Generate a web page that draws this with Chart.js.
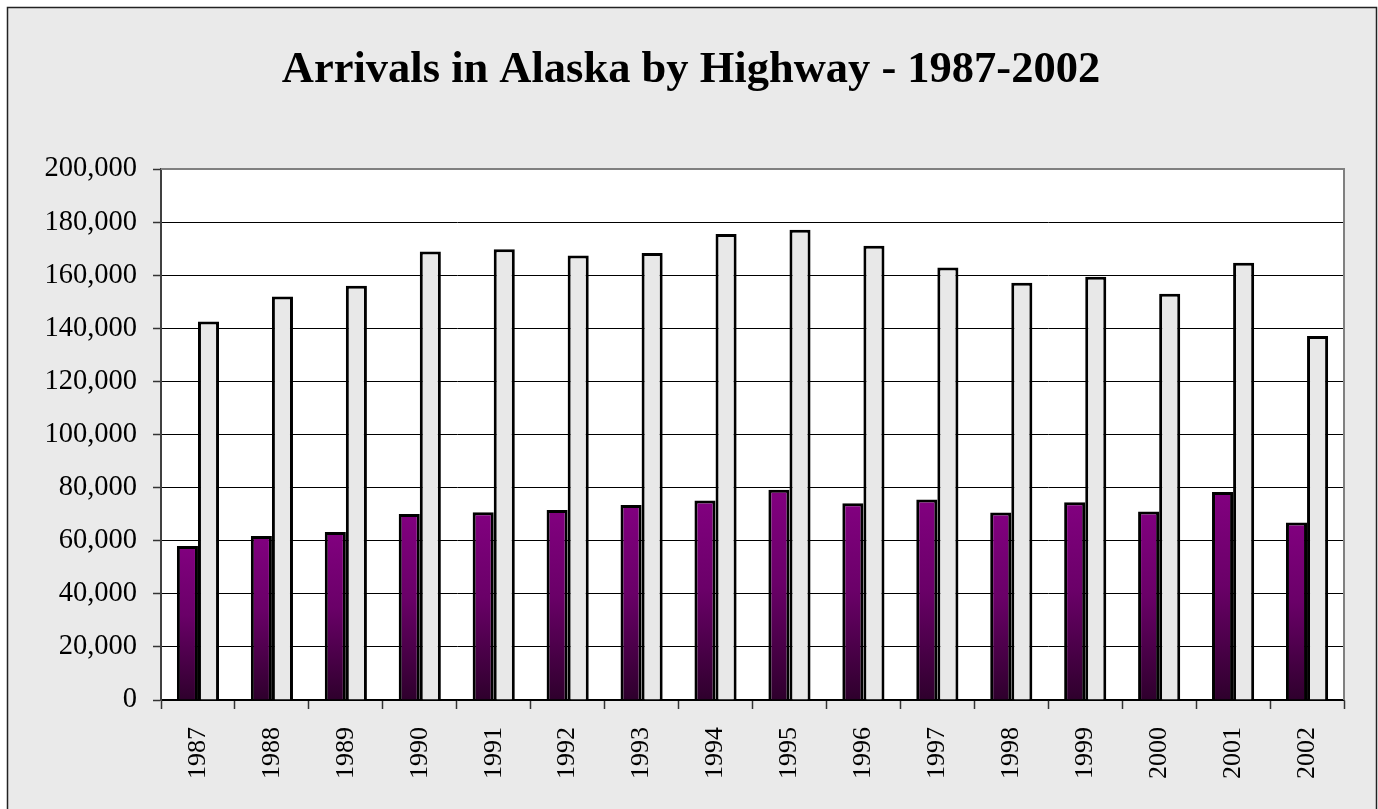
<!DOCTYPE html>
<html>
<head>
<meta charset="utf-8">
<script src="https://cdn.jsdelivr.net/npm/chart.js@4"></script>
<style>
  html, body { margin: 0; padding: 0; background: #ffffff; }
  #wrap { width: 1378px; height: 809px; position: relative; }
</style>
</head>
<body>
<div id="wrap"><canvas id="c" width="1378" height="809"></canvas></div>
<script>
const years = ['1987','1988','1989','1990','1991','1992','1993','1994','1995','1996','1997','1998','1999','2000','2001','2002'];
const seriesA = [58000, 61800, 63300, 70100, 70700, 71600, 73400, 75100, 79200, 74100, 75500, 70600, 74500, 71000, 78300, 66900];
const seriesB = [142600, 152000, 156000, 168900, 169800, 167400, 168400, 175500, 177100, 171100, 162900, 157200, 159400, 153000, 164700, 137100];
const yTicks = [0, 20000, 40000, 60000, 80000, 100000, 120000, 140000, 160000, 180000, 200000];
const titleText = 'Arrivals in Alaska by Highway - 1987-2002';

const FONT = "'Liberation Serif', 'Times New Roman', serif";

const framePlugin = {
  id: 'frame',
  beforeDraw(chart) {
    const ctx = chart.ctx;
    const a = chart.chartArea;
    ctx.save();
    ctx.fillStyle = '#ffffff';
    ctx.fillRect(0, 0, chart.width, chart.height);
    ctx.fillStyle = '#eaeaea';
    ctx.fillRect(7, 7, 1369, 820);
    ctx.strokeStyle = '#222222';
    ctx.lineWidth = 1.5;
    ctx.strokeRect(7.5, 7.5, 1369, 820);
    ctx.fillStyle = '#ffffff';
    ctx.fillRect(a.left, a.top, a.right - a.left, a.bottom - a.top);
    ctx.restore();
  },
  afterDatasetsDraw(chart) {
    const ctx = chart.ctx;
    const a = chart.chartArea;
    ctx.save();
    ctx.strokeStyle = '#808080';
    ctx.lineWidth = 2;
    ctx.beginPath();
    ctx.moveTo(a.left, a.top);
    ctx.lineTo(a.right, a.top);
    ctx.lineTo(a.right, a.bottom);
    ctx.stroke();
    ctx.restore();
  }
};

function purpleFill(context) {
  const chart = context.chart;
  const y = chart.scales.y;
  if (!chart.chartArea || !y || context.raw == null) return '#800080';
  const top = y.getPixelForValue(context.raw);
  const bot = y.getPixelForValue(0);
  const g = chart.ctx.createLinearGradient(0, top, 0, bot);
  g.addColorStop(0, '#820080');
  g.addColorStop(0.45, '#6a0068');
  g.addColorStop(1, '#2e002c');
  return g;
}

new Chart(document.getElementById('c'), {
  type: 'bar',
  data: {
    labels: years,
    datasets: [
      {
        label: 'Series A',
        data: seriesA,
        backgroundColor: purpleFill,
        borderColor: '#000000',
        borderWidth: 3,
        borderSkipped: 'bottom',
        categoryPercentage: 0.57,
        barPercentage: 1.0
      },
      {
        label: 'Series B',
        data: seriesB,
        backgroundColor: '#e8e8e8',
        borderColor: '#000000',
        borderWidth: 3,
        borderSkipped: 'bottom',
        categoryPercentage: 0.57,
        barPercentage: 1.0
      }
    ]
  },
  options: {
    responsive: false,
    animation: false,
    devicePixelRatio: 1,
    layout: { padding: { left: 38, right: 34, top: 0, bottom: 0 } },
    plugins: {
      legend: { display: false },
      tooltip: { enabled: false },
      title: {
        display: true,
        text: titleText,
        color: '#000000',
        font: { family: FONT, size: 44.5, weight: 'bold', lineHeight: 1.2 },
        padding: { top: 44, bottom: 71.6 }
      }
    },
    scales: {
      x: {
        offset: true,
        grid: {
          offset: true,
          drawOnChartArea: false,
          drawTicks: true,
          tickLength: 9,
          tickColor: '#333333',
          tickWidth: 1.5
        },
        border: { display: true, color: '#000000', width: 1.5 },
        ticks: {
          color: '#000000',
          font: { family: FONT, size: 26 },
          minRotation: 90,
          maxRotation: 90,
          padding: 18,
          autoSkip: false
        },
        afterFit(scale) { scale.height = 109; }
      },
      y: {
        min: 0,
        max: 200000,
        afterBuildTicks(scale) { scale.ticks = yTicks.map(v => ({ value: v })); },
        grid: {
          color: '#000000',
          lineWidth: 1,
          drawTicks: true,
          tickLength: 8,
          tickColor: '#333333',
          tickWidth: 1.5
        },
        border: { display: true, color: '#404040', width: 2 },
        ticks: {
          color: '#000000',
          font: { family: FONT, size: 28.5 },
          padding: 16,
          callback: v => v.toLocaleString('en-US')
        },
        afterFit(scale) { scale.width = 123; }
      }
    }
  },
  plugins: [framePlugin]
});
</script>
</body>
</html>
